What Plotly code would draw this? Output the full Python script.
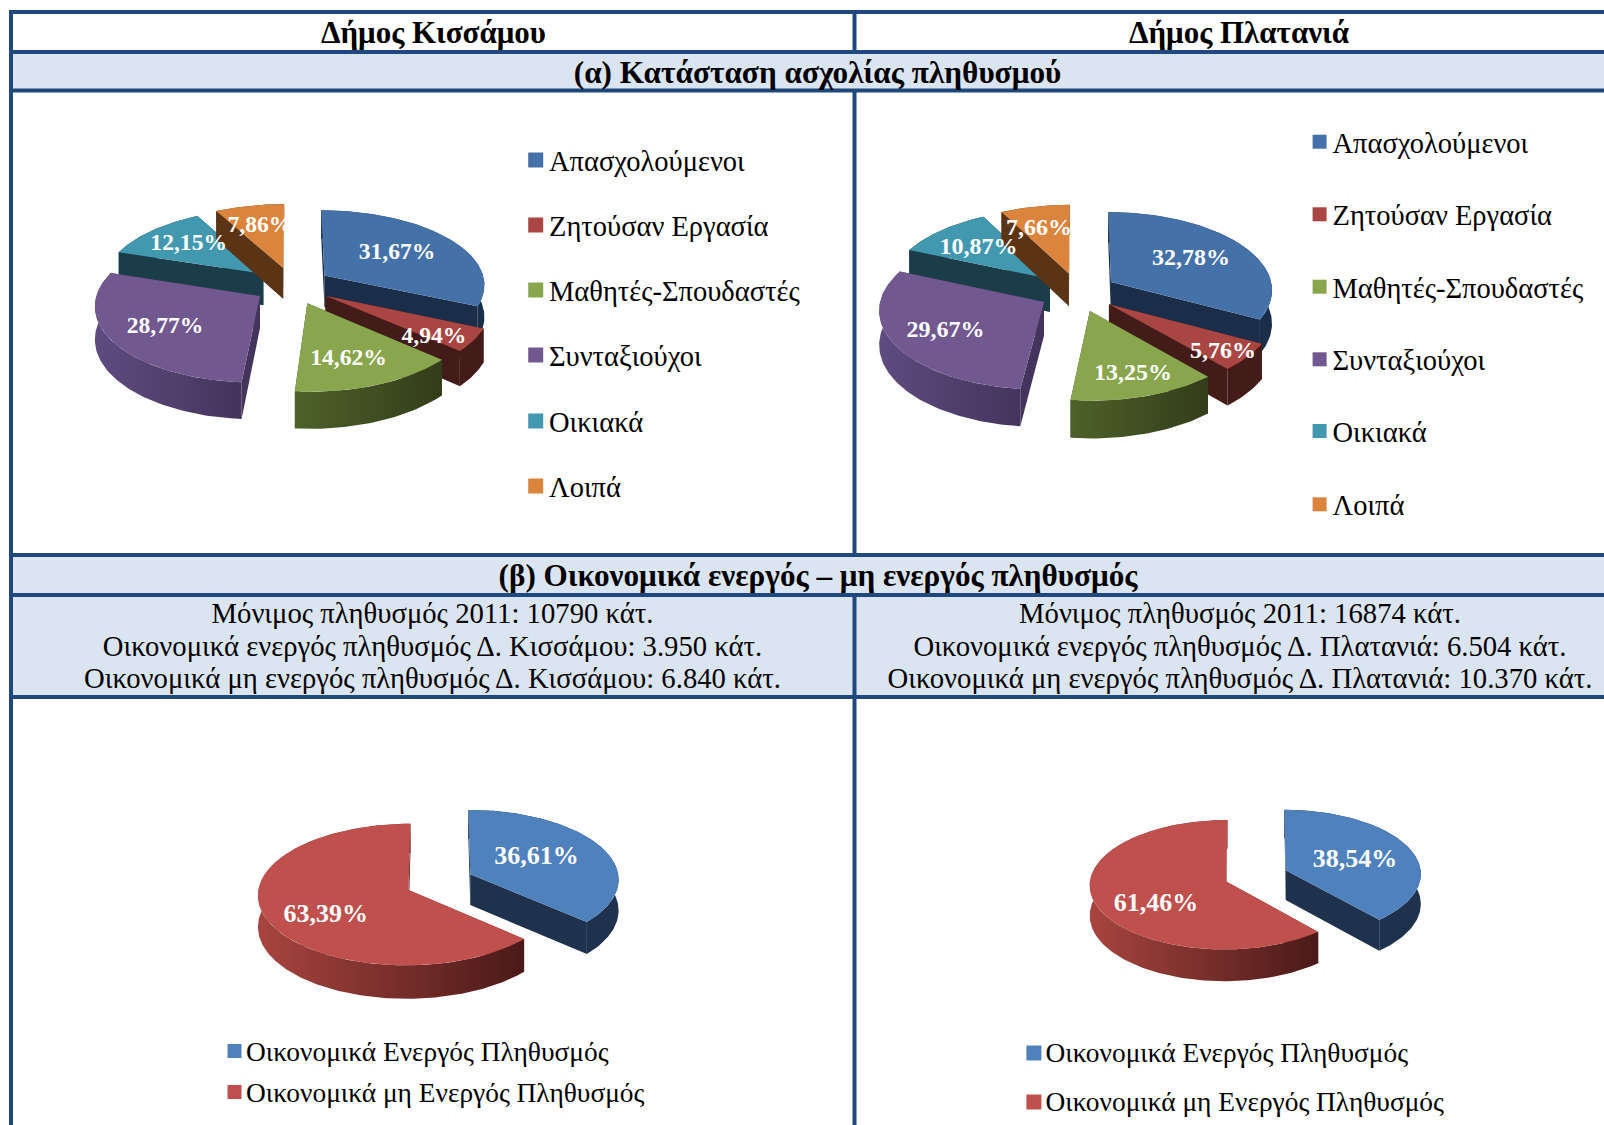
import math
import plotly.graph_objects as go

# ---------- data ----------
categories_a = ["Απασχολούμενοι", "Ζητούσαν Εργασία", "Μαθητές-Σπουδαστές", "Συνταξιούχοι", "Οικιακά", "Λοιπά"]
values_kissamos_a = [31.67, 4.94, 14.62, 28.77, 12.15, 7.86]
values_platanias_a = [32.78, 5.76, 13.25, 29.67, 10.87, 7.66]
categories_b = ["Οικονομικά Ενεργός Πληθυσμός", "Οικονομικά μη Ενεργός Πληθυσμός"]
values_kissamos_b = [36.61, 63.39]
values_platanias_b = [38.54, 61.46]
header_left = "Δήμος Κισσάμου"
header_right = "Δήμος Πλατανιά"
section_a = "(α) Κατάσταση ασχολίας πληθυσμού"
section_b = "(β) Οικονομικά ενεργός – μη ενεργός πληθυσμός"
info_left = ["Μόνιμος πληθυσμός 2011: 10790 κάτ.",
             "Οικονομικά ενεργός πληθυσμός Δ. Κισσάμου: 3.950 κάτ.",
             "Οικονομικά μη ενεργός πληθυσμός Δ. Κισσάμου: 6.840 κάτ."]
info_right = ["Μόνιμος πληθυσμός 2011: 16874 κάτ.",
              "Οικονομικά ενεργός πληθυσμός Δ. Πλατανιά: 6.504 κάτ.",
              "Οικονομικά μη ενεργός πληθυσμός Δ. Πλατανιά: 10.370 κάτ."]

# ---------- styles ----------
FONT = "Liberation Serif"
LINE = "#1F497D"
BAND = "#DBE5F1"
TOP_A = ["#4472A8", "#A94643", "#89A54E", "#71588F", "#4198AF", "#DB843D"]
SIDE_A = [("#1A2E4A", "#1A2E4A"), ("#431B18", "#431B18"), ("#4E6129", "#333D1A"),
          ("#5F4B80", "#44345C"), ("#1A3D49", "#1A3D49"), ("#5A3415", "#5A3415")]
TOP_B = ["#4F81BD", "#C0504D"]
SIDE_B = [("#1E324E", "#1E324E"), ("#A8443F", "#4A1A18")]
ORDER_A = [4, 5, 0, 3, 1, 2]
ORDER_B = [0, 1]


def project(p, u, v, z=0.0):
    s = 1 / (1 + p["k"] * v)
    return (p["cx"] + u * p["rx"] * s, p["cy"] - v * p["ry"] * s + z * p["depth"] * s)


def add_poly(fig, pts, color=None, grad=None):
    xs = [a for a, _ in pts] + [pts[0][0]]
    ys = [b for _, b in pts] + [pts[0][1]]
    kw = dict(x=xs, y=ys, mode="lines", fill="toself", line=dict(width=0), hoverinfo="skip", showlegend=False)
    if grad:
        kw["fillgradient"] = dict(type="horizontal", colorscale=[[0, grad[0]], [1, grad[1]]])
    else:
        kw["fillcolor"] = color
    fig.add_trace(go.Scatter(**kw))


def add_pie(fig, values, p, tops, sides, order):
    total = sum(values)
    bounds = [0.0]
    for val in values:
        bounds.append(bounds[-1] + val / total * 2 * math.pi)
    for i in order:
        a0, a1 = bounds[i], bounds[i + 1]
        mid = (a0 + a1) / 2
        ax, ay = p["eu"] * math.sin(mid), p["ev"] * math.cos(mid)
        n = max(4, int((a1 - a0) / 0.02))
        arc = [(ax + math.sin(a0 + (a1 - a0) * j / n), ay + math.cos(a0 + (a1 - a0) * j / n)) for j in range(n + 1)]
        top = [project(p, u, v) for u, v in arc]
        low = [project(p, u, v, 1) for u, v in arc]
        apex_top = project(p, ax, ay)
        apex_low = project(p, ax, ay, 1)
        dark = sides[i][1]
        for end_top, end_low in ((top[0], low[0]), (top[-1], low[-1])):
            add_poly(fig, [apex_top, end_top, end_low, apex_low], color=dark)
        add_poly(fig, top + low[::-1], grad=sides[i])
        add_poly(fig, [apex_top] + top, color=tops[i])


def add_texts(fig, xs, ys, texts, size, color="#000000", weight="normal", pos="middle center"):
    fig.add_trace(go.Scatter(x=xs, y=ys, text=texts, mode="text", textposition=pos, hoverinfo="skip",
                             showlegend=False,
                             textfont=dict(family=FONT, size=size, color=color, weight=weight)))


def pct(v):
    return f"{v:.2f}".replace(".", ",") + "%"


fig = go.Figure()

pies = [
    (values_kissamos_a, dict(cx=292.5, cy=285.5, rx=161, ry=74.5, k=.111, eu=.24, ev=.25, depth=32), TOP_A, SIDE_A, ORDER_A),
    (values_platanias_a, dict(cx=1078, cy=292, rx=162, ry=78, k=.09, eu=.24, ev=.25, depth=33.5), TOP_A, SIDE_A, ORDER_A),
    (values_kissamos_b, dict(cx=439.6, cy=882, rx=149, ry=69.5, k=.065, eu=.227, ev=.276, depth=31), TOP_B, SIDE_B, ORDER_B),
    (values_platanias_b, dict(cx=1256, cy=875.8, rx=135.5, ry=64, k=.05, eu=.235, ev=.25, depth=30), TOP_B, SIDE_B, ORDER_B),
]
for vals, p, tops, sides, order in pies:
    add_pie(fig, vals, p, tops, sides, order)

# value labels
add_texts(fig, [397, 434, 348.5, 165, 188.7, 260], [253, 337, 359, 327, 244, 226],
          [pct(v) for v in values_kissamos_a], 23.6, "#FFFFFF", "bold")
add_texts(fig, [1191, 1223, 1133, 945.5, 978.5, 1039], [258.7, 352, 373.7, 331, 247.7, 229],
          [pct(v) for v in values_platanias_a], 24, "#FFFFFF", "bold")
add_texts(fig, [536.5, 325.8], [857, 915], [pct(v) for v in values_kissamos_b], 26, "#FFFFFF", "bold")
add_texts(fig, [1355, 1156], [860, 904.7], [pct(v) for v in values_platanias_b], 26, "#FFFFFF", "bold")


# legends
def add_legend(fig, x_marker, x_text, ys, names, colors, msize, fsize, dy):
    fig.add_trace(go.Scatter(x=[x_marker] * len(ys), y=ys, mode="markers", hoverinfo="skip", showlegend=False,
                             marker=dict(symbol="square", size=msize, color=colors, line=dict(width=0))))
    add_texts(fig, [x_text] * len(ys), [y + dy for y in ys], names, fsize, pos="middle right")


add_legend(fig, 535.7, 549, [160, 225, 290, 355, 421, 486], categories_a, TOP_A, 15, 28.5, 4)
add_legend(fig, 1319.6, 1332.5, [141.7, 214.3, 286.7, 359.3, 431, 504.3], categories_a, TOP_A, 14, 28.5, 4)
add_legend(fig, 234.5, 246, [1051, 1092], categories_b, TOP_B, 14, 27.4, 3.5)
add_legend(fig, 1033.9, 1045.5, [1053, 1102], categories_b, TOP_B, 15, 27.4, 2.5)

# table frame
L, MID, R = 11, 854.5, 1604
Y = [12, 52, 90.5, 555, 595, 697, 1125]
shapes = []
for y0, y1 in ((Y[1], Y[2]), (Y[3], Y[5])):
    shapes.append(dict(type="rect", x0=L, x1=R, y0=y0, y1=y1, fillcolor=BAND, line=dict(width=0), layer="below"))
for y in Y[:-1]:
    shapes.append(dict(type="line", x0=L - 2, x1=R, y0=y, y1=y, line=dict(color=LINE, width=4), layer="below"))
shapes.append(dict(type="line", x0=L, x1=L, y0=Y[0], y1=Y[-1], line=dict(color=LINE, width=4), layer="below"))
for y0, y1 in ((Y[0], Y[1]), (Y[2], Y[3]), (Y[4], Y[6])):
    shapes.append(dict(type="line", x0=MID, x1=MID, y0=y0, y1=y1, line=dict(color=LINE, width=4), layer="below"))

add_texts(fig, [433.5, 1239], [35, 35], [header_left, header_right], 31, weight="bold")
add_texts(fig, [817.5], [75], [section_a], 31.3, weight="bold")
add_texts(fig, [818], [578], [section_b], 31.2, weight="bold")
add_texts(fig, [432.5] * 3, [616, 649, 681], info_left, 28.7)
add_texts(fig, [1240] * 3, [616, 649, 681], info_right, 28.7)

fig.update_layout(width=1604, height=1125, margin=dict(l=0, r=0, t=0, b=0), paper_bgcolor="#FFFFFF",
                  plot_bgcolor="#FFFFFF", shapes=shapes, showlegend=False)
fig.update_xaxes(range=[0, 1604], visible=False, fixedrange=True)
fig.update_yaxes(range=[1125, 0], visible=False, fixedrange=True)
fig.write_html("out.html", config=dict(displayModeBar=False),
               post_script="document.body.style.margin='0';document.body.style.overflow='hidden';")
